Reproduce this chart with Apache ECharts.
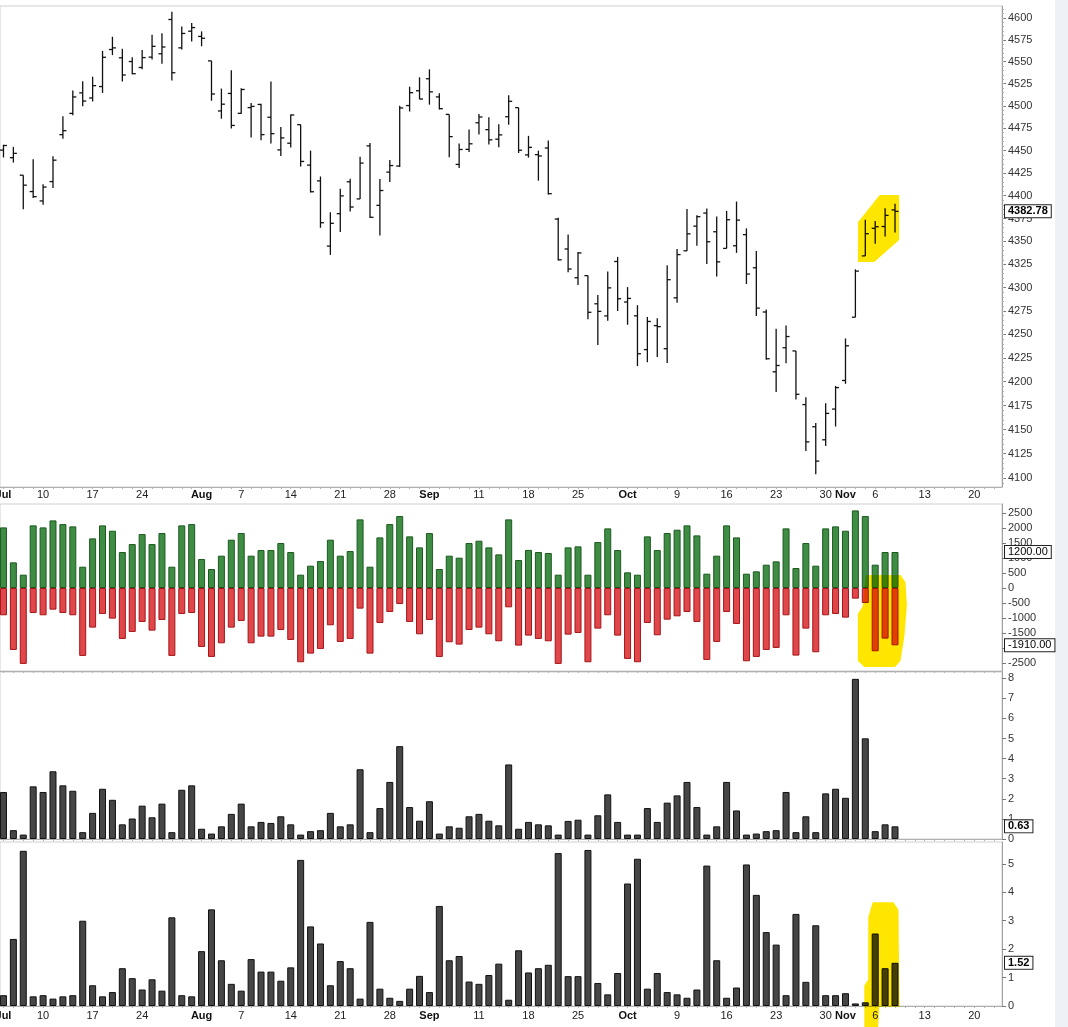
<!DOCTYPE html>
<html>
<head>
<meta charset="utf-8">
<script src="https://cdn.jsdelivr.net/npm/echarts@6/dist/echarts.min.js"></script>
<style>
html,body{margin:0;padding:0;background:#fff;}
#c{width:1068px;height:1027px;}
</style>
</head>
<body>
<div id="c"></div>
<script>
// ---------------- DATA ----------------
const tradingDays = [
 '2023-07-03','2023-07-05','2023-07-06','2023-07-07','2023-07-10','2023-07-11','2023-07-12','2023-07-13','2023-07-14',
 '2023-07-17','2023-07-18','2023-07-19','2023-07-20','2023-07-21','2023-07-24','2023-07-25','2023-07-26','2023-07-27','2023-07-28','2023-07-31',
 '2023-08-01','2023-08-02','2023-08-03','2023-08-04','2023-08-07','2023-08-08','2023-08-09','2023-08-10','2023-08-11',
 '2023-08-14','2023-08-15','2023-08-16','2023-08-17','2023-08-18','2023-08-21','2023-08-22','2023-08-23','2023-08-24','2023-08-25',
 '2023-08-28','2023-08-29','2023-08-30','2023-08-31','2023-09-01','2023-09-05','2023-09-06','2023-09-07','2023-09-08',
 '2023-09-11','2023-09-12','2023-09-13','2023-09-14','2023-09-15','2023-09-18','2023-09-19','2023-09-20','2023-09-21','2023-09-22',
 '2023-09-25','2023-09-26','2023-09-27','2023-09-28','2023-09-29','2023-10-02','2023-10-03','2023-10-04','2023-10-05','2023-10-06',
 '2023-10-09','2023-10-10','2023-10-11','2023-10-12','2023-10-13','2023-10-16','2023-10-17','2023-10-18','2023-10-19','2023-10-20',
 '2023-10-23','2023-10-24','2023-10-25','2023-10-26','2023-10-27','2023-10-30','2023-10-31','2023-11-01','2023-11-02','2023-11-03',
 '2023-11-06','2023-11-07','2023-11-08'
];
const openP = [4450.48,4442.04,4422.62,4404.54,4394.23,4415.55,4467.69,4491.50,4514.61,4508.86,4521.78,4563.87,4554.38,4550.16,4543.39,4555.19,4558.96,4598.26,4565.75,4584.82,
 4578.83,4550.93,4494.27,4513.96,4491.58,4498.03,4501.57,4487.16,4450.69,4458.13,4478.87,4433.79,4416.32,4344.88,4380.28,4415.33,4396.44,4455.16,4389.38,4426.03,4432.75,4500.34,4517.01,
 4530.60,4510.06,4490.35,4434.55,4451.30,4480.98,4473.27,4462.65,4487.78,4497.98,4445.13,4445.41,4452.81,4374.36,4341.74,4310.62,4312.88,4282.63,4269.65,4328.18,
 4284.52,4269.75,4233.83,4259.31,4234.79,4289.02,4339.75,4366.59,4380.94,4360.49,4342.37,4345.23,4357.35,4321.36,4273.85,4210.40,4235.79,4232.42,4175.99,4152.93,4139.39,4171.33,
 4201.27,4268.26,4334.23,4364.27,4366.21,4384.37];
const highP = [4456.46,4454.06,4422.62,4440.39,4412.60,4443.64,4488.34,4517.38,4527.76,4532.85,4562.30,4578.43,4564.74,4555.00,4563.41,4580.62,4582.47,4607.07,4590.16,4594.22,
 4584.62,4550.93,4519.49,4540.34,4519.84,4503.31,4502.44,4527.37,4476.23,4490.33,4478.87,4449.95,4421.17,4381.82,4407.55,4418.59,4443.18,4458.30,4418.46,4439.56,4500.14,4521.65,4532.26,
 4541.25,4514.29,4490.35,4457.81,4473.53,4490.77,4487.11,4479.39,4511.99,4497.98,4466.36,4449.85,4461.03,4375.70,4357.40,4338.51,4313.01,4292.07,4317.27,4333.15,
 4300.58,4281.15,4268.50,4267.13,4324.10,4341.73,4385.46,4378.64,4385.85,4377.10,4383.33,4393.57,4364.20,4339.54,4276.56,4255.84,4259.38,4232.42,4183.60,4156.70,4177.47,4195.55,
 4245.64,4319.72,4373.62,4372.21,4386.26,4391.20];
const lowP = [4442.29,4436.61,4385.05,4397.40,4389.92,4408.46,4463.23,4489.36,4499.56,4504.90,4514.59,4557.48,4527.56,4535.79,4541.29,4552.42,4547.58,4528.56,4564.01,4573.14,
 4567.53,4505.75,4485.54,4474.55,4491.15,4464.39,4461.33,4457.92,4443.98,4453.44,4432.19,4403.55,4364.83,4335.31,4360.30,4382.77,4396.44,4375.55,4356.29,4414.98,4431.68,4493.59,4507.39,
 4501.35,4496.01,4442.38,4430.46,4448.38,4467.89,4456.83,4453.52,4478.69,4447.21,4442.11,4416.61,4401.38,4329.17,4316.49,4302.70,4265.98,4238.63,4264.38,4274.86,
 4260.21,4216.45,4220.48,4225.91,4219.55,4283.79,4339.64,4345.34,4325.43,4311.97,4342.37,4337.54,4303.84,4269.69,4223.03,4189.22,4219.43,4181.42,4127.90,4103.78,4132.94,4153.12,
 4197.74,4268.26,4334.23,4347.53,4355.41,4359.76];
const closeP = [4455.59,4446.82,4411.59,4398.95,4409.53,4439.26,4472.16,4510.04,4505.42,4522.79,4554.98,4565.72,4534.87,4536.34,4554.64,4567.46,4566.75,4537.41,4582.23,4588.96,
 4576.73,4513.39,4501.89,4478.03,4518.44,4499.38,4467.71,4468.83,4464.05,4489.72,4437.86,4404.33,4370.36,4369.71,4399.77,4387.55,4436.01,4376.31,4405.71,4433.31,4497.63,4514.87,4507.66,
 4515.77,4496.83,4465.48,4451.14,4457.49,4487.46,4461.90,4467.44,4505.10,4450.32,4453.53,4443.95,4402.20,4330.00,4320.06,4337.44,4273.53,4274.51,4299.70,4288.05,
 4288.39,4229.45,4263.75,4258.19,4308.50,4335.66,4358.24,4376.95,4349.61,4327.78,4373.63,4373.20,4314.60,4278.00,4224.16,4217.04,4247.68,4186.77,4137.23,4117.37,4166.82,4193.80,
 4237.86,4317.78,4358.34,4365.98,4378.38,4382.78];

const advancing = [2020,855,444,2087,2020,2253,2131,2054,710,1654,2087,1909,1199,1465,1798,1465,1832,710,2087,2131,
 966,633,1077,1610,1832,1077,1265,1265,1499,1199,444,744,899,1610,1077,1232,2287,710,1687,2131,2398,1721,1354,
 1832,633,1077,1010,1499,1576,1354,1121,2287,932,1270,1199,1166,444,1354,1388,444,1532,1987,1265,
 522,444,1721,1265,1832,1943,2087,1754,477,1077,2087,1687,477,555,777,888,1987,666,1499,744,1987,2054,
 1909,2586,2398,777,1199,1200];
const declining = [-910,-2065,-2531,-833,-910,-722,-833,-910,-2264,-1321,-866,-1021,-1698,-1465,-1132,-1421,-1066,-2264,-866,-833,
 -1965,-2298,-1843,-1321,-1099,-1843,-1621,-1621,-1399,-1732,-2475,-2187,-2031,-1243,-1798,-1698,-688,-2187,-1166,-799,-533,-1132,-1543,
 -1066,-2298,-1809,-1887,-1399,-1321,-1543,-1776,-644,-1920,-1587,-1698,-1776,-2531,-1554,-1499,-2475,-1354,-910,-1587,
 -2364,-2475,-1166,-1576,-1055,-944,-799,-1132,-2398,-1798,-799,-1199,-2442,-2298,-2065,-1998,-910,-2253,-1354,-2142,-910,-866,
 -988,-355,-500,-2109,-1687,-1910];
const upDownRatio = [2.34,0.44,0.22,2.62,2.34,3.37,2.67,2.40,0.34,1.30,2.50,1.95,0.73,1.02,1.66,1.08,1.76,0.34,2.45,2.67,
 0.51,0.27,0.63,1.25,1.76,0.63,0.85,0.80,1.13,0.73,0.22,0.39,0.44,1.30,0.63,0.73,3.47,0.34,1.54,2.84,4.62,1.59,0.91,
 1.88,0.27,0.63,0.56,1.13,1.25,0.91,0.68,3.71,0.51,0.85,0.73,0.68,0.22,0.90,0.96,0.22,1.18,2.22,0.85,
 0.22,0.22,1.54,0.85,1.81,2.17,2.84,1.59,0.22,0.63,2.84,1.42,0.22,0.27,0.39,0.44,2.34,0.34,1.13,0.34,2.27,2.50,
 2.05,7.97,5.01,0.39,0.73,0.63];
const downUpRatio = [0.38,2.36,5.46,0.34,0.38,0.26,0.34,0.38,3.00,0.73,0.34,0.49,1.33,0.98,0.58,0.94,0.54,3.12,0.38,0.34,
 1.93,3.40,1.61,0.78,0.54,1.65,1.21,1.21,0.89,1.36,5.14,2.80,2.20,0.73,1.58,1.33,0.26,2.96,0.61,0.29,0.18,0.61,1.06,
 0.49,3.52,1.61,1.76,0.86,0.78,1.09,1.49,0.22,1.96,1.18,1.33,1.45,5.38,1.05,1.05,5.49,0.81,0.41,1.16,
 4.31,5.18,0.61,1.16,0.49,0.41,0.29,0.58,4.94,1.61,0.29,0.65,4.98,3.91,2.60,2.16,0.38,3.24,0.85,2.84,0.38,0.38,
 0.45,0.09,0.13,2.55,1.33,1.52];

// tick labels
const xTickIdx  = [0,4,9,14,20,24,29,34,39,43,48,53,58,63,68,73,78,83,85,88,93,98];
const xTickText = ['Jul','10','17','24','Aug','7','14','21','28','Sep','11','18','25','Oct','9','16','23','30','Nov','6','13','20'];
const monthLabels = ['Jul','Aug','Sep','Oct','Nov'];
const priceTicks = [4100,4125,4150,4175,4200,4225,4250,4275,4300,4325,4350,4375,4400,4425,4450,4475,4500,4525,4550,4575,4600];
const breadthTicks = [-2500,-2000,-1500,-1000,-500,0,500,1000,1500,2000,2500];
const upRatioTicks = [0,1,2,3,4,5,6,7,8];
const downRatioTicks = [0,1,2,3,4,5];

// hand-drawn highlight annotations (in data coordinates: [slot index, value])
const hlPrice = [[86.26,4371],[88.45,4400.8],[90.42,4400.8],[90.42,4351.5],[87.9,4327.6],[86.26,4327.6]];
const hlBreadth = [[87.05,433],[90.55,433],[91.05,200],[91.2,-570],[90.95,-1600],[90.55,-2430],[90.0,-2630],[86.9,-2630],[86.25,-2430],[86.25,-870],[86.75,-600]];
const hlDown = [[87.75,3.65],[89.85,3.65],[90.35,3.38],[90.45,-0.03],[88.4,-0.03],[88.3,-0.75],[86.9,-0.75],[86.9,0.72],[87.3,0.93],[87.3,3.12]];

// ---------------- CHART ----------------
const FONT = '"Liberation Sans", Arial, Helvetica, sans-serif';
const X_MIN = -0.35, X_MAX = 100.8;
const nSlots = 101;
const daySlots = Array.from({length: nSlots}, (_, i) => i);
const minorPriceTicks = [];
for (let p = 4095; p <= 4610; p += 5) minorPriceTicks.push(p);

const chart = echarts.init(document.getElementById('c'), null, {renderer: 'canvas', width: 1068, height: 1027});

function xLabel(v) {
  const k = xTickIdx.indexOf(Math.round(v));
  if (k < 0) return '';
  const t = xTickText[k];
  return monthLabels.indexOf(t) >= 0 ? '{m|' + t + '}' : t;
}
function xAxisCfg(gi, showLabels, margin) {
  return {
    type: 'value', gridIndex: gi, min: X_MIN, max: X_MAX,
    splitLine: {show: false},
    axisLine: {show: true, onZero: false, lineStyle: {color: '#b0b0b0', width: 1}},
    axisTick: {show: true, customValues: daySlots, length: 2, inside: false, lineStyle: {color: '#b0b0b0'}},
    axisLabel: {
      show: showLabels, customValues: xTickIdx, margin: margin, formatter: xLabel,
      fontFamily: FONT, fontSize: 11, color: '#222',
      rich: {m: {fontFamily: FONT, fontSize: 11, fontWeight: 'bold', color: '#111'}}
    }
  };
}
function yMain(gi, type, min, max, ticks, fmt) {
  const a = {
    type: type, gridIndex: gi, position: 'right', min: min, max: max,
    splitLine: {show: false},
    axisLine: {show: true, onZero: false, lineStyle: {color: '#a0a0a0'}},
    axisTick: {show: true, inside: false, length: 4, customValues: ticks, lineStyle: {color: '#777'}},
    axisLabel: {customValues: ticks, margin: 6, fontFamily: FONT, fontSize: 11, color: '#333', formatter: fmt}
  };
  if (type === 'log') a.logBase = 10;
  return a;
}
function yTag(gi, type, min, max, vals, bold, minor) {
  const a = {
    type: type, gridIndex: gi, position: 'right', min: min, max: max,
    splitLine: {show: false},
    axisLine: {show: false, onZero: false},
    axisTick: minor ? {show: true, inside: false, length: 2, customValues: minor, lineStyle: {color: '#aaa'}} : {show: false},
    axisLabel: {
      customValues: vals, margin: 3, fontFamily: FONT, fontSize: 11,
      fontWeight: bold ? 'bold' : 'normal', color: '#000',
      backgroundColor: '#fff', borderColor: '#222', borderWidth: 1, padding: [1, 3, 0, 3],
      formatter: v => Number(v).toFixed(2)
    }
  };
  if (type === 'log') a.logBase = 10;
  return a;
}
function polyRenderer(points) {
  return function (params, api) {
    const pts = points.map(p => api.coord(p));
    return {type: 'polygon', shape: {points: pts}, style: {fill: '#ffe600'}};
  };
}
function ohlcRender(params, api) {
  const i = api.value(0);
  const pO = api.coord([i, api.value(1)]);
  const pH = api.coord([i, api.value(2)]);
  const pL = api.coord([i, api.value(3)]);
  const pC = api.coord([i, api.value(4)]);
  const x = pH[0];
  const st = {stroke: '#111', lineWidth: 1.3};
  return {type: 'group', children: [
    {type: 'line', shape: {x1: x, y1: pH[1], x2: x, y2: pL[1]}, style: st},
    {type: 'line', shape: {x1: x - 3.5, y1: pO[1], x2: x, y2: pO[1]}, style: st},
    {type: 'line', shape: {x1: x, y1: pC[1], x2: x + 3.5, y2: pC[1]}, style: st}
  ]};
}

const last = closeP.length - 1;
const ohlcData = closeP.map((c, i) => [i, openP[i], highP[i], lowP[i], c]);
const advData = advancing.map((v, i) => [i, v]);
const decData = declining.map((v, i) => [i, v]);
const upData = upDownRatio.map((v, i) => [i, v]);
const downData = downUpRatio.map((v, i) => [i, v]);

const PRICE_MIN = 4090.8, PRICE_MAX = 4613.8;
const BR_MIN = -2767, BR_MAX = 2800;
const UP_MAX = 8.31, DN_MAX = 5.77;

const gridBase = {left: 0, right: 66, show: true, borderColor: '#cfcfcf', borderWidth: 1, backgroundColor: '#fff', outerBoundsMode: 'none', containLabel: false};

const option = {
  backgroundColor: '#fff',
  animation: false,
  graphic: [
    {type: 'rect', left: 1055, top: 0, shape: {width: 13, height: 1027}, style: {fill: '#eef2f6'}, silent: true}
  ],
  grid: [
    Object.assign({}, gridBase, {top: 6, height: 481}),
    Object.assign({}, gridBase, {top: 504, height: 167}),
    Object.assign({}, gridBase, {top: 672, height: 167}),
    Object.assign({}, gridBase, {top: 842, height: 164})
  ],
  xAxis: [
    xAxisCfg(0, true, 2),
    xAxisCfg(1, false, 2),
    xAxisCfg(2, false, 2),
    xAxisCfg(3, true, 4)
  ],
  yAxis: [
    yMain(0, 'log', PRICE_MIN, PRICE_MAX, priceTicks, v => String(Math.round(v))),
    yTag(0, 'log', PRICE_MIN, PRICE_MAX, [closeP[last]], true, minorPriceTicks),
    yMain(1, 'value', BR_MIN, BR_MAX, breadthTicks, v => String(v)),
    yTag(1, 'value', BR_MIN, BR_MAX, [advancing[last], declining[last]], false, null),
    yMain(2, 'value', 0, UP_MAX, upRatioTicks, v => String(v)),
    yTag(2, 'value', 0, UP_MAX, [upDownRatio[last]], true, null),
    yMain(3, 'value', 0, DN_MAX, downRatioTicks, v => String(v)),
    yTag(3, 'value', 0, DN_MAX, [downUpRatio[last]], true, null)
  ],
  series: [
    {type: 'custom', name: 'Price', xAxisIndex: 0, yAxisIndex: 0, data: ohlcData,
     encode: {x: 0, y: [1, 2, 3, 4]}, renderItem: ohlcRender, z: 3},
    {type: 'custom', name: 'hl1', xAxisIndex: 0, yAxisIndex: 0, data: [[88, 4370]], renderItem: polyRenderer(hlPrice), zlevel: 1, z: 10, silent: true},
    {type: 'bar', name: 'Advancing', xAxisIndex: 1, yAxisIndex: 2, data: advData, stack: 'breadth', barWidth: 7,
     itemStyle: {color: '#3f8d44', borderColor: '#1b5a1f', borderWidth: 1}},
    {type: 'bar', name: 'Declining', xAxisIndex: 1, yAxisIndex: 2, data: decData, stack: 'breadth', barWidth: 7,
     itemStyle: {color: '#e0474a', borderColor: '#a51418', borderWidth: 1}},
    {type: 'custom', name: 'hl2', xAxisIndex: 1, yAxisIndex: 2, data: [[88, 0]], renderItem: polyRenderer(hlBreadth), zlevel: 1, z: 10, silent: true},
    {type: 'bar', name: 'UpDown', xAxisIndex: 2, yAxisIndex: 4, data: upData, barWidth: 7,
     itemStyle: {color: '#464646', borderColor: '#111', borderWidth: 1}},
    {type: 'bar', name: 'DownUp', xAxisIndex: 3, yAxisIndex: 6, data: downData, barWidth: 7,
     itemStyle: {color: '#464646', borderColor: '#111', borderWidth: 1}},
    {type: 'custom', name: 'hl4', xAxisIndex: 3, yAxisIndex: 6, data: [[88, 1]], renderItem: polyRenderer(hlDown), zlevel: 1, z: 10, silent: true}
  ]
};
chart.setOption(option);

// the highlighter marks sit on their own layer, blended like a marker pen
function applyBlend() {
  document.querySelectorAll('#c canvas').forEach(cv => {
    const id = cv.getAttribute('data-zr-dom-id');
    if (id && id !== 'zr_0') cv.style.mixBlendMode = 'multiply';
  });
}
applyBlend();
chart.on('finished', applyBlend);
chart.on('rendered', applyBlend);
setTimeout(applyBlend, 0);
</script>
</body>
</html>
